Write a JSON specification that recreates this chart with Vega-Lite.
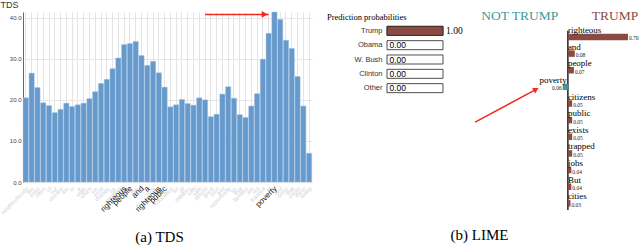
{
  "$schema": "https://vega.github.io/schema/vega-lite/v6.json",
  "padding": 0,
  "background": "white",
  "bounds": "flush",
  "spacing": 75,
  "config": {"view": {"stroke": null}, "font": "Liberation Sans"},
  "datasets": {
    "tds": [
      {"i": 1, "word": "neighborhoods", "tds": 20.5, "hl": false},
      {"i": 2, "word": "the", "tds": 26.5, "hl": false},
      {"i": 3, "word": "inner", "tds": 23.0, "hl": false},
      {"i": 4, "word": "cities", "tds": 19.3, "hl": false},
      {"i": 5, "word": "of", "tds": 18.6, "hl": false},
      {"i": 6, "word": "our", "tds": 16.9, "hl": false},
      {"i": 7, "word": "country", "tds": 17.7, "hl": false},
      {"i": 8, "word": "are", "tds": 19.2, "hl": false},
      {"i": 9, "word": "in", "tds": 18.4, "hl": false},
      {"i": 10, "word": "a", "tds": 18.8, "hl": false},
      {"i": 11, "word": "state", "tds": 19.2, "hl": false},
      {"i": 12, "word": "which", "tds": 20.3, "hl": false},
      {"i": 13, "word": "we", "tds": 22.0, "hl": false},
      {"i": 14, "word": "must", "tds": 24.0, "hl": false},
      {"i": 15, "word": "change", "tds": 25.0, "hl": false},
      {"i": 16, "word": "by", "tds": 27.6, "hl": false},
      {"i": 17, "word": "creating", "tds": 30.2, "hl": false},
      {"i": 18, "word": "righteous", "tds": 33.5, "hl": true},
      {"i": 19, "word": "people", "tds": 33.7, "hl": true},
      {"i": 20, "word": "the", "tds": 34.2, "hl": false},
      {"i": 21, "word": "and", "tds": 30.8, "hl": true},
      {"i": 22, "word": "a", "tds": 28.4, "hl": true},
      {"i": 23, "word": "truly", "tds": 29.4, "hl": false},
      {"i": 24, "word": "righteous", "tds": 26.6, "hl": true},
      {"i": 25, "word": "public", "tds": 23.1, "hl": true},
      {"i": 26, "word": "education", "tds": 18.3, "hl": false},
      {"i": 27, "word": "for", "tds": 18.8, "hl": false},
      {"i": 28, "word": "all", "tds": 20.1, "hl": false},
      {"i": 29, "word": "children", "tds": 19.1, "hl": false},
      {"i": 30, "word": "with", "tds": 18.7, "hl": false},
      {"i": 31, "word": "safe", "tds": 20.5, "hl": false},
      {"i": 32, "word": "streets", "tds": 20.0, "hl": false},
      {"i": 33, "word": "good", "tds": 15.9, "hl": false},
      {"i": 34, "word": "jobs", "tds": 16.5, "hl": false},
      {"i": 35, "word": "and", "tds": 21.4, "hl": false},
      {"i": 36, "word": "opportunity", "tds": 23.2, "hl": false},
      {"i": 37, "word": "so", "tds": 20.4, "hl": false},
      {"i": 38, "word": "that", "tds": 16.4, "hl": false},
      {"i": 39, "word": "families", "tds": 15.7, "hl": false},
      {"i": 40, "word": "are", "tds": 18.5, "hl": false},
      {"i": 41, "word": "not", "tds": 21.5, "hl": false},
      {"i": 42, "word": "trapped", "tds": 29.9, "hl": false},
      {"i": 43, "word": "in", "tds": 36.2, "hl": false},
      {"i": 44, "word": "poverty", "tds": 41.4, "hl": true},
      {"i": 45, "word": "and", "tds": 39.6, "hl": false},
      {"i": 46, "word": "crime", "tds": 34.5, "hl": false},
      {"i": 47, "word": "that", "tds": 32.5, "hl": false},
      {"i": 48, "word": "exists", "tds": 25.7, "hl": false},
      {"i": 49, "word": "there", "tds": 18.5, "hl": false},
      {"i": 50, "word": "today", "tds": 7.0, "hl": false}
    ],
    "arrowA": [{"from": 32, "to": 43, "y": 40.8}],
    "probs": [
      {"cls": "Trump", "p": 1.0},
      {"cls": "Obama", "p": 0.0},
      {"cls": "W. Bush", "p": 0.0},
      {"cls": "Clinton", "p": 0.0},
      {"cls": "Other", "p": 0.0}
    ],
    "lime": [
      {"rank": 1, "word": "righteous", "weight": 0.70, "side": "pos"},
      {"rank": 2, "word": "and", "weight": 0.08, "side": "pos"},
      {"rank": 3, "word": "people", "weight": 0.07, "side": "pos"},
      {"rank": 4, "word": "poverty", "weight": 0.06, "side": "neg"},
      {"rank": 5, "word": "citizens", "weight": 0.05, "side": "pos"},
      {"rank": 6, "word": "public", "weight": 0.05, "side": "pos"},
      {"rank": 7, "word": "exists", "weight": 0.05, "side": "pos"},
      {"rank": 8, "word": "trapped", "weight": 0.05, "side": "pos"},
      {"rank": 9, "word": "jobs", "weight": 0.04, "side": "pos"},
      {"rank": 10, "word": "But", "weight": 0.04, "side": "pos"},
      {"rank": 11, "word": "cities", "weight": 0.03, "side": "pos"}
    ],
    "limeHead": [
      {"label": "NOT TRUMP", "x": -0.56, "rank": 0, "side": "neg"},
      {"label": "TRUMP", "x": 0.55, "rank": 0, "side": "pos"}
    ],
    "limeAxis": [{"x": 0, "top": 0.62, "bottom": 11.4}],
    "arrowB": [{"x1": -1.08, "y1": 6.12, "x2": -0.38, "y2": 4.18}]
  },
  "hconcat": [
    {
      "width": 289,
      "height": 170,
      "title": {"text": "(a) TDS", "orient": "bottom", "anchor": "middle", "font": "Liberation Serif", "fontSize": 15, "fontWeight": "normal", "color": "black", "offset": 14, "dx": -8},
      "layer": [
        {
          "data": {"name": "tds"},
          "mark": {"type": "bar", "fill": "#6699cc", "stroke": "#a3c2e3", "strokeWidth": 0.5},
          "encoding": {
            "x": {"field": "i", "type": "ordinal", "scale": {"paddingInner": 0.1, "paddingOuter": 0.05},
                  "axis": {"labels": false, "ticks": false, "domain": false, "grid": true, "gridColor": "#e4e4e4", "title": null, "bandPosition": 0.5}},
            "y": {"field": "tds", "type": "quantitative", "scale": {"domain": [0, 41.4], "nice": false},
                  "axis": {"values": [0, 5, 10, 15, 20, 25, 30, 35, 40, 41.4], "format": ".1f", "labelFontSize": 6, "labelColor": "#444", "labelOverlap": false, "labelPadding": 2, "ticks": false, "domainColor": "#666", "gridColor": "#e6e6e6",
                           "title": "TDS", "titleAngle": 0, "titleAlign": "left", "titleBaseline": "top", "titleX": -23, "titleY": -12, "titleFontSize": 9, "titleFontWeight": "normal", "titleColor": "#333"}}
          }
        },
        {
          "data": {"name": "tds"},
          "mark": {"type": "text", "angle": 315, "align": "right", "baseline": "middle", "dx": -3, "dy": 5},
          "encoding": {
            "x": {"field": "i", "type": "ordinal"},
            "y": {"datum": 0},
            "text": {"field": "word"},
            "color": {"condition": {"test": "datum.hl", "value": "#111111"}, "value": "#d0d0d0"},
            "size": {"condition": {"test": "datum.hl", "value": 8}, "value": 5.5}
          }
        },
        {
          "data": {"name": "arrowA"},
          "mark": {"type": "rule", "color": "#f02a1e", "strokeWidth": 1.5},
          "encoding": {"x": {"field": "from", "type": "ordinal"}, "x2": {"field": "to"}, "y": {"field": "y", "type": "quantitative"}}
        },
        {
          "data": {"name": "arrowA"},
          "mark": {"type": "point", "shape": "triangle-right", "filled": true, "color": "#f02a1e", "opacity": 1, "size": 45, "xOffset": -4},
          "encoding": {"x": {"field": "to", "type": "ordinal"}, "y": {"field": "y", "type": "quantitative"}}
        }
      ]
    },
    {
      "bounds": "flush",
      "spacing": 27,
      "title": {"text": "(b) LIME", "orient": "bottom", "anchor": "middle", "font": "Liberation Serif", "fontSize": 15, "fontWeight": "normal", "color": "black", "offset": 13, "dx": -4},
      "hconcat": [
        {
          "width": 56,
          "height": 95,
          "data": {"name": "probs"},
          "title": {"text": "Prediction probabilities", "anchor": "start", "frame": "group", "dx": -60, "offset": -9, "font": "Liberation Serif", "fontSize": 8.5, "fontWeight": "normal", "color": "black"},
          "encoding": {
            "y": {"field": "cls", "type": "nominal", "sort": null, "scale": {"paddingInner": 0.37, "paddingOuter": 1.18},
                  "axis": {"title": null, "domain": false, "ticks": false, "labelFontSize": 7.5, "labelColor": "#333", "labelPadding": 5}}
          },
          "layer": [
            {
              "mark": {"type": "bar", "fill": "white", "stroke": "#222", "strokeWidth": 0.8},
              "encoding": {"x": {"datum": 0, "type": "quantitative", "scale": {"domain": [0, 1], "nice": false}, "axis": null}, "x2": {"datum": 1}}
            },
            {
              "transform": [{"filter": "datum.p > 0"}],
              "mark": {"type": "bar", "fill": "#8b4a42", "stroke": "#222", "strokeWidth": 0.8},
              "encoding": {"x": {"field": "p", "type": "quantitative"}}
            },
            {
              "transform": [{"filter": "datum.p > 0.5"}],
              "mark": {"type": "text", "align": "left", "dx": 3, "font": "Liberation Serif", "fontSize": 9.5, "color": "black"},
              "encoding": {"x": {"datum": 1}, "text": {"field": "p", "format": ".2f"}}
            },
            {
              "transform": [{"filter": "datum.p <= 0.5"}],
              "mark": {"type": "text", "align": "left", "dx": 2.5, "fontSize": 8.5, "color": "black"},
              "encoding": {"x": {"datum": 0}, "text": {"field": "p", "format": ".2f"}}
            }
          ]
        },
        {
          "width": 170,
          "height": 203,
          "layer": [
            {
              "data": {"name": "limeHead"},
              "mark": {"type": "text", "font": "Liberation Serif", "fontSize": 13.5, "baseline": "middle", "dy": -4},
              "encoding": {
                "x": {"field": "x", "type": "quantitative", "scale": {"domain": [-1.14, 0.84], "nice": false, "zero": false}, "axis": null},
                "y": {"field": "rank", "type": "quantitative", "scale": {"domain": [-0.2, 11.4], "reverse": true, "nice": false, "zero": false}, "axis": null},
                "text": {"field": "label"},
                "color": {"field": "side", "type": "nominal", "scale": {"domain": ["neg", "pos"], "range": ["#3f9b9b", "#8b4a42"]}, "legend": null}
              }
            },
            {
              "data": {"name": "limeAxis"},
              "mark": {"type": "rule", "color": "#222", "strokeWidth": 1.5},
              "encoding": {"x": {"field": "x", "type": "quantitative"}, "y": {"field": "top", "type": "quantitative"}, "y2": {"field": "bottom"}}
            },
            {
              "data": {"name": "lime"},
              "transform": [{"calculate": "datum.side == 'neg' ? -datum.weight : datum.weight", "as": "sx"}],
              "mark": {"type": "bar", "orient": "horizontal", "size": 6.5},
              "encoding": {
                "x": {"field": "sx", "type": "quantitative"}, "x2": {"datum": 0},
                "y": {"field": "rank", "type": "quantitative"},
                "color": {"field": "side", "type": "nominal"}
              }
            },
            {
              "data": {"name": "lime"},
              "transform": [{"filter": "datum.side == 'pos'"}],
              "mark": {"type": "text", "align": "left", "baseline": "middle", "dx": 0, "dy": -7, "font": "Liberation Serif", "fontSize": 9, "color": "black"},
              "encoding": {"x": {"datum": 0}, "y": {"field": "rank", "type": "quantitative"}, "text": {"field": "word"}}
            },
            {
              "data": {"name": "lime"},
              "transform": [{"filter": "datum.side == 'neg'"}],
              "mark": {"type": "text", "align": "right", "baseline": "middle", "dx": -1, "dy": -7, "font": "Liberation Serif", "fontSize": 9, "color": "black"},
              "encoding": {"x": {"datum": 0}, "y": {"field": "rank", "type": "quantitative"}, "text": {"field": "word"}}
            },
            {
              "data": {"name": "lime"},
              "transform": [{"filter": "datum.side == 'pos'"}],
              "mark": {"type": "text", "align": "left", "baseline": "middle", "dx": 1, "dy": 1.5, "font": "Liberation Serif", "fontSize": 5.5, "color": "#222"},
              "encoding": {"x": {"field": "weight", "type": "quantitative"}, "y": {"field": "rank", "type": "quantitative"}, "text": {"field": "weight", "format": ".2f"}}
            },
            {
              "data": {"name": "lime"},
              "transform": [{"filter": "datum.side == 'neg'"}, {"calculate": "-datum.weight", "as": "sx"}],
              "mark": {"type": "text", "align": "right", "baseline": "middle", "dx": -1, "dy": 1, "font": "Liberation Serif", "fontSize": 5.5, "color": "#222"},
              "encoding": {"x": {"field": "sx", "type": "quantitative"}, "y": {"field": "rank", "type": "quantitative"}, "text": {"field": "weight", "format": ".2f"}}
            },
            {
              "data": {"name": "arrowB"},
              "mark": {"type": "rule", "color": "#f02a1e", "strokeWidth": 1.5},
              "encoding": {"x": {"field": "x1", "type": "quantitative"}, "x2": {"field": "x2"}, "y": {"field": "y1", "type": "quantitative"}, "y2": {"field": "y2"}}
            },
            {
              "data": {"name": "arrowB"},
              "mark": {"type": "point", "shape": "triangle", "filled": true, "color": "#f02a1e", "opacity": 1, "size": 40, "angle": 60},
              "encoding": {"x": {"field": "x2", "type": "quantitative"}, "y": {"field": "y2", "type": "quantitative"}}
            }
          ]
        }
      ]
    }
  ]
}
